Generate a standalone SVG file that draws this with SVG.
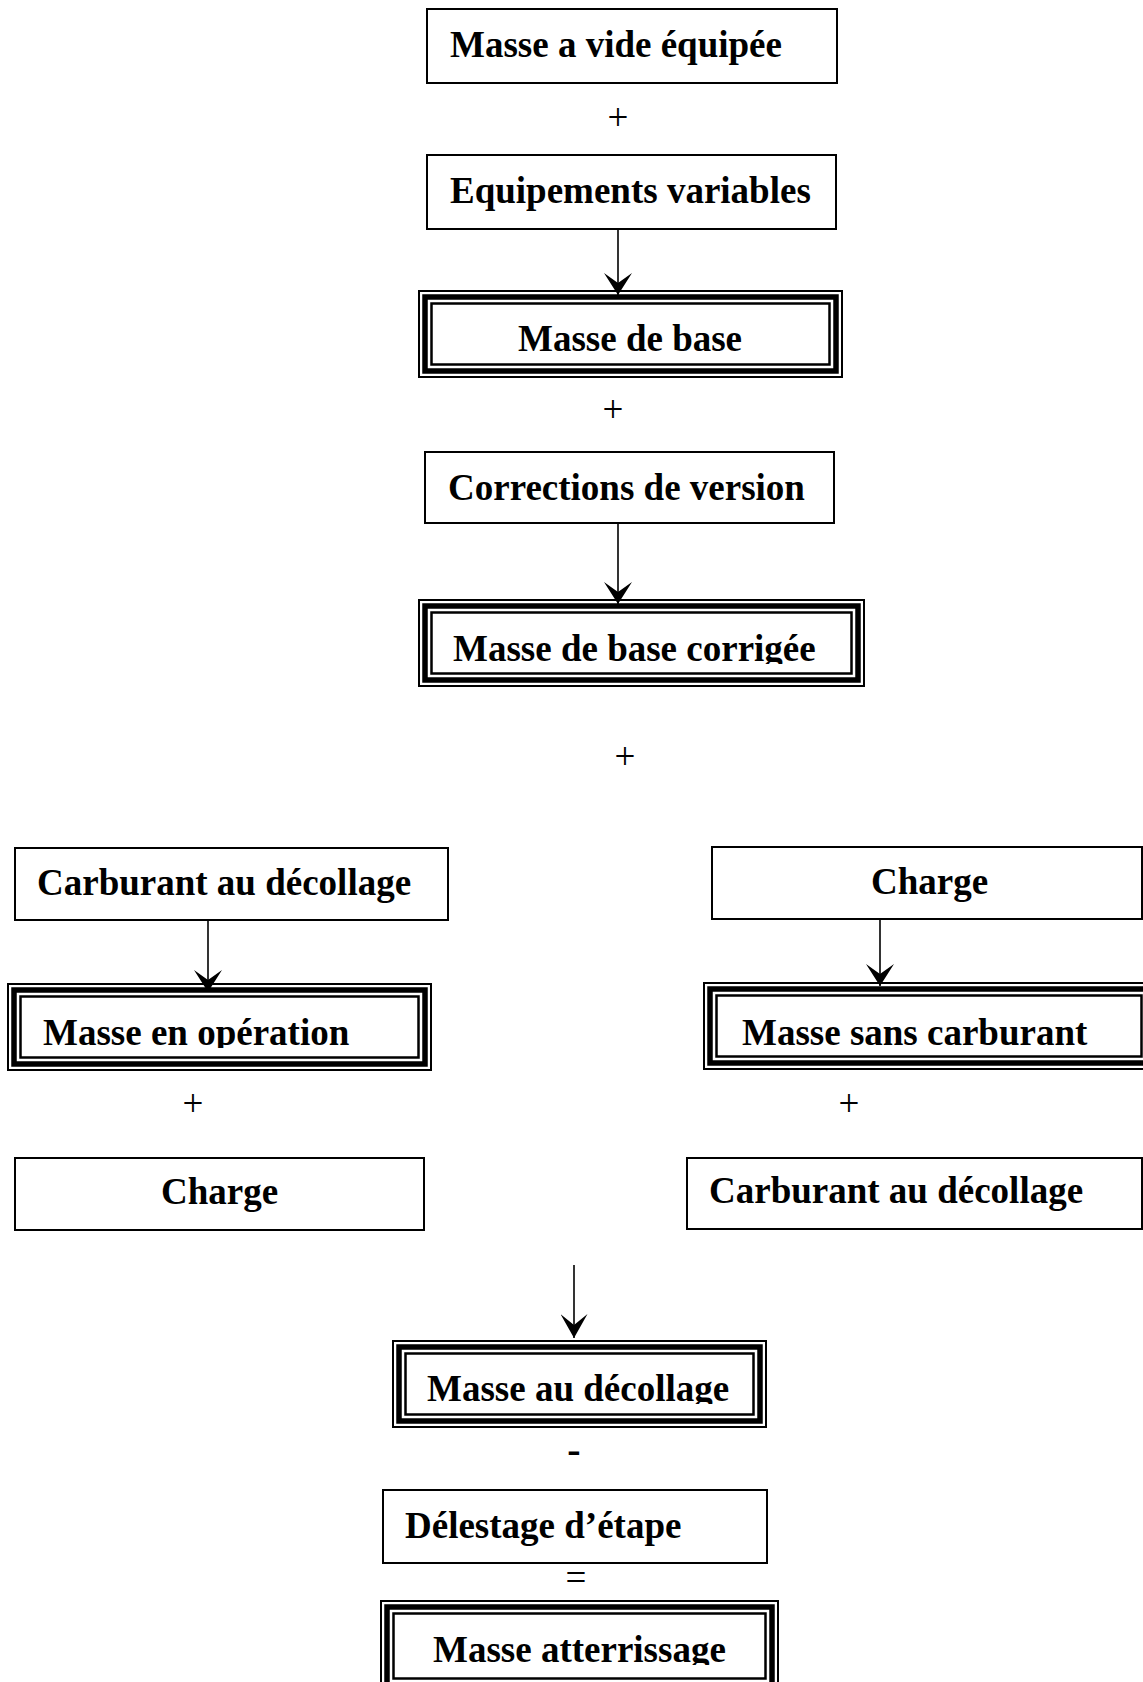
<svg xmlns="http://www.w3.org/2000/svg" width="1143" height="1682" viewBox="0 0 1143 1682">
<style>
.bg{fill:#fff}
.box{fill:#fff;stroke:#000;stroke-width:2}
.f1{fill:#fff;stroke:#000;stroke-width:2}
.f2{fill:none;stroke:#000;stroke-width:5.5}
.f3{fill:none;stroke:#000;stroke-width:2.5}
.t{font-family:"Liberation Serif","Times New Roman",serif;font-weight:bold;font-size:37px;fill:#000}
.op{font-family:"Liberation Serif","Times New Roman",serif;font-size:37px;fill:#000;text-anchor:middle}
.opb{font-family:"Liberation Serif","Times New Roman",serif;font-weight:bold;font-size:40px;fill:#000;text-anchor:middle}
.c{fill:none;stroke:#000;stroke-width:1.6}
</style>
<defs>
<marker id="barb" viewBox="0 0 22 28" refX="22" refY="14" markerWidth="22" markerHeight="28" markerUnits="userSpaceOnUse" orient="auto">
<path d="M0,0 L22,14 L0,28 L10,14 Z" fill="#000"/>
</marker>
<marker id="barb2" viewBox="0 0 24 27" refX="24" refY="13.5" markerWidth="24" markerHeight="27" markerUnits="userSpaceOnUse" orient="auto">
<path d="M0,0 L24,13.5 L0,27 L11,13.5 Z" fill="#000"/>
</marker>
<clipPath id="cl5" clipPathUnits="userSpaceOnUse"><rect x="0" y="600" width="1143" height="64"/></clipPath>
<clipPath id="cl7" clipPathUnits="userSpaceOnUse"><rect x="0" y="984" width="1143" height="64"/></clipPath>
<clipPath id="cl12" clipPathUnits="userSpaceOnUse"><rect x="0" y="1341" width="1143" height="63"/></clipPath>
<clipPath id="cl14" clipPathUnits="userSpaceOnUse"><rect x="0" y="1602" width="1143" height="63"/></clipPath>
</defs>
<rect class="bg" x="0" y="0" width="1143" height="1682"/>

<g id="n1">
<rect class="box" x="427" y="9" width="410" height="74"/>
<text class="t" x="450" y="57">Masse a vide équipée</text>
</g>
<text class="op" x="618" y="130">+</text>
<g id="n2">
<rect class="box" x="427" y="155" width="409" height="74"/>
<text class="t" x="450" y="203">Equipements variables</text>
</g>
<g id="n3">
<rect class="f1" x="419" y="291" width="423" height="86"/>
<rect class="f2" x="425" y="297" width="411" height="74"/>
<rect class="f3" x="431.5" y="303.5" width="398" height="61"/>
<text class="t" x="518" y="351">Masse de base</text>
</g>
<text class="op" x="613" y="422">+</text>
<g id="n4">
<rect class="box" x="425" y="452" width="409" height="71"/>
<text class="t" x="448" y="500">Corrections de version</text>
</g>
<g id="n5">
<rect class="f1" x="419" y="600" width="445" height="86"/>
<rect class="f2" x="425" y="606" width="433" height="74"/>
<rect class="f3" x="431.5" y="612.5" width="420" height="61"/>
<text class="t" x="453" y="661" clip-path="url(#cl5)">Masse de base corrigée</text>
</g>
<text class="op" x="625" y="769">+</text>
<g id="n6">
<rect class="box" x="15" y="848" width="433" height="72"/>
<text class="t" x="37" y="895">Carburant au décollage</text>
</g>
<g id="n7">
<rect class="f1" x="8" y="984" width="423" height="86"/>
<rect class="f2" x="14" y="990" width="411" height="74"/>
<rect class="f3" x="20.5" y="996.5" width="398" height="61"/>
<text class="t" x="43" y="1045" clip-path="url(#cl7)">Masse en opération</text>
</g>
<text class="op" x="193" y="1116">+</text>
<g id="n8">
<rect class="box" x="15" y="1158" width="409" height="72"/>
<text class="t" x="161" y="1204">Charge</text>
</g>
<g id="n9">
<rect class="box" x="712" y="847" width="430" height="72"/>
<text class="t" x="871" y="894">Charge</text>
</g>
<g id="n10">
<rect class="f1" x="704" y="983" width="450" height="86"/>
<rect class="f2" x="710" y="989" width="438" height="74"/>
<rect class="f3" x="716.5" y="995.5" width="425" height="61"/>
<text class="t" x="742" y="1045">Masse sans carburant</text>
</g>
<text class="op" x="849" y="1116">+</text>
<g id="n11">
<rect class="box" x="687" y="1158" width="455" height="71"/>
<text class="t" x="709" y="1203">Carburant au décollage</text>
</g>
<g id="n12">
<rect class="f1" x="393" y="1341" width="373" height="86"/>
<rect class="f2" x="399" y="1347" width="361" height="74"/>
<rect class="f3" x="405.5" y="1353.5" width="348" height="61"/>
<text class="t" x="427" y="1401" clip-path="url(#cl12)">Masse au décollage</text>
</g>
<text class="opb" x="574" y="1463">-</text>
<g id="n13">
<rect class="box" x="383" y="1490" width="384" height="73"/>
<text class="t" x="405" y="1538">Délestage d’étape</text>
</g>
<text class="op" x="576" y="1590">=</text>
<g id="n14">
<rect class="f1" x="381" y="1601" width="397" height="90"/>
<rect class="f2" x="387" y="1607" width="385" height="78"/>
<rect class="f3" x="393.5" y="1613.5" width="372" height="65"/>
<text class="t" x="433" y="1662" clip-path="url(#cl14)">Masse atterrissage</text>
</g>

<g id="connectors">
<line class="c" x1="618" y1="229" x2="618" y2="295" marker-end="url(#barb)"/>
<line class="c" x1="618" y1="523" x2="618" y2="604" marker-end="url(#barb)"/>
<line class="c" x1="208" y1="920" x2="208" y2="992" marker-end="url(#barb)"/>
<line class="c" x1="880" y1="919" x2="880" y2="986" marker-end="url(#barb)"/>
<line class="c" x1="574" y1="1265" x2="574" y2="1338" marker-end="url(#barb2)"/>
</g>
</svg>
